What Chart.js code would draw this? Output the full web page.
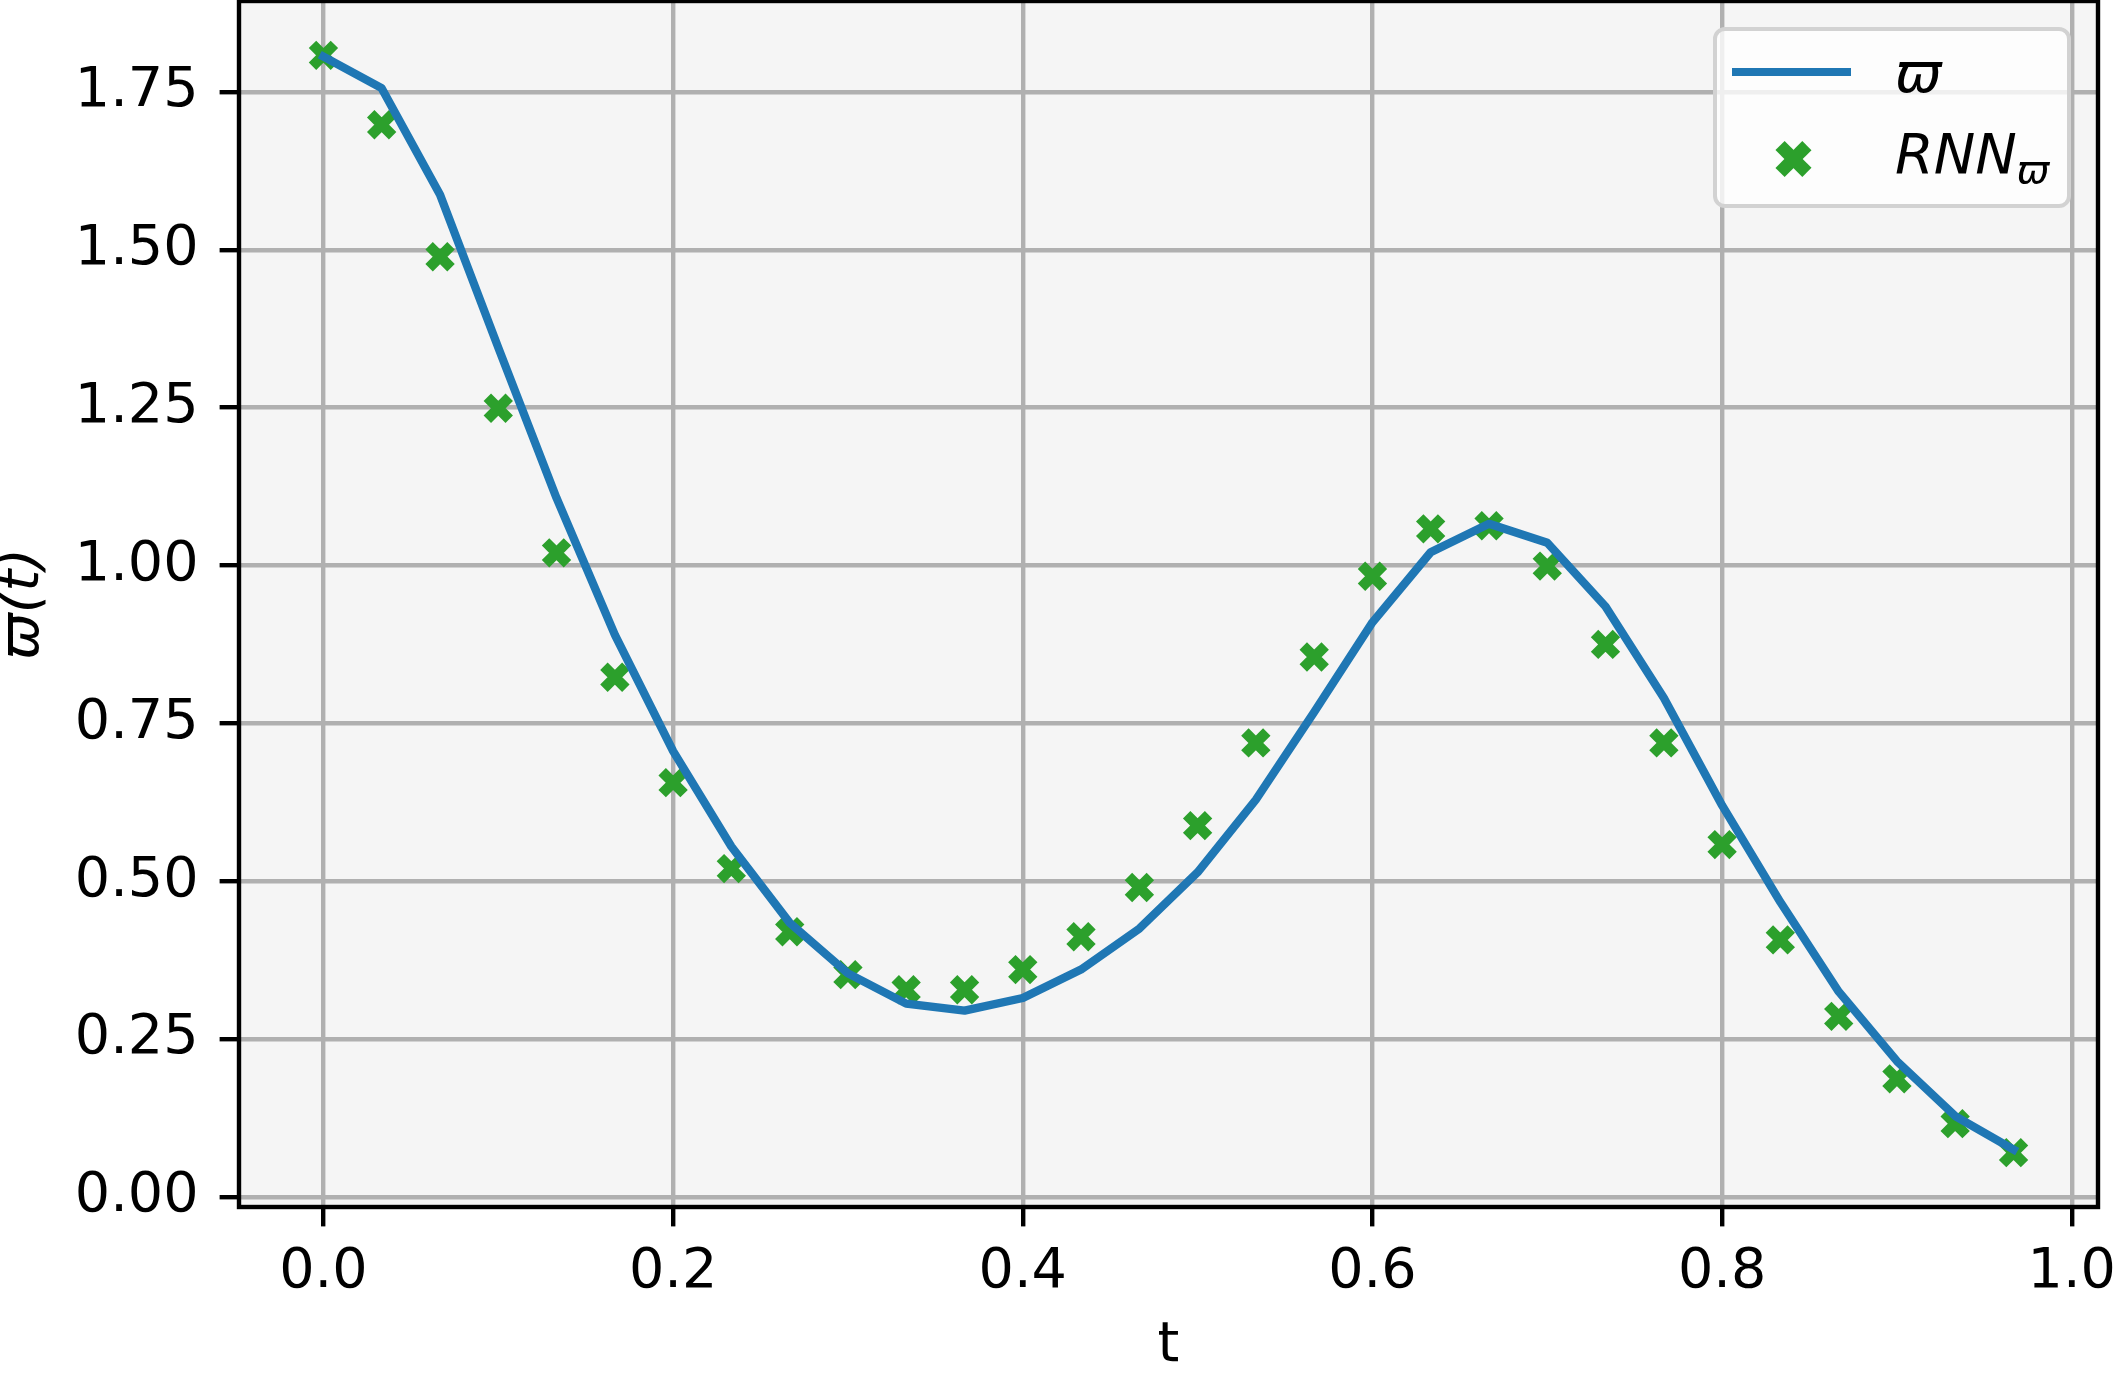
<!DOCTYPE html>
<html>
<head>
<meta charset="utf-8">
<script src="https://cdn.jsdelivr.net/npm/chart.js@4.4.1/dist/chart.umd.min.js"></script>
<style>
  html, body { margin: 0; padding: 0; background: #fff; }
  #wrap { position: relative; width: 2116px; height: 1377px; }
  #legend {
    position: absolute; left: 1713px; top: 27px; width: 358px; height: 181px;
    box-sizing: border-box; border: 4px solid #d2d2d2; border-radius: 12px;
    background: rgba(255,255,255,0.8);
  }
  .lg-line { position: absolute; left: 1732px; top: 68px; width: 119px; height: 8px; background: #1f77b4; }
  .lg-mark { position: absolute; left: 1793px; top: 159px; width: 0; height: 0; }
  .lg-mark i { position: absolute; left: -6.4px; top: -19px; width: 12.8px; height: 38px; background: #2ca02c; }
  .lg-mark i:first-child { transform: rotate(45deg); }
  .lg-mark i:last-child { transform: rotate(-45deg); }
  .lg-text {
    position: absolute; left: 1895px; font-family: "DejaVu Sans"; font-style: italic;
    font-size: 55.6px; line-height: 55.6px; color: #000; white-space: nowrap;
  }
  .lg-text .sub { font-size: 0.7em; position: relative; top: 10px; }
</style>
</head>
<body>
<div id="wrap">
  <canvas id="chart" width="2116" height="1377"></canvas>
  <div id="legend"></div>
  <div class="lg-line"></div>
  <div class="lg-mark"><i></i><i></i></div>
  <div class="lg-text" style="top:45px">ϖ</div>
  <div class="lg-text" style="top:126px">RNN<span class="sub">ϖ</span></div>
</div>
<script>
// time grid (t) and the two series
const T = [0.0000, 0.0333, 0.0667, 0.1000, 0.1333, 0.1667, 0.2000, 0.2333, 0.2667, 0.3000,
           0.3333, 0.3667, 0.4000, 0.4333, 0.4667, 0.5000, 0.5333, 0.5667, 0.6000, 0.6333,
           0.6667, 0.7000, 0.7333, 0.7667, 0.8000, 0.8333, 0.8667, 0.9000, 0.9333, 0.9667];

const VARPI = [1.806, 1.756, 1.587, 1.345, 1.107, 0.890, 0.706, 0.555, 0.434, 0.354,
               0.306, 0.295, 0.315, 0.360, 0.425, 0.514, 0.629, 0.768, 0.910, 1.021,
               1.066, 1.036, 0.935, 0.790, 0.620, 0.467, 0.325, 0.215, 0.128, 0.075];

const RNN = [1.808, 1.698, 1.489, 1.249, 1.020, 0.823, 0.656, 0.520, 0.420, 0.352,
             0.328, 0.328, 0.360, 0.412, 0.490, 0.588, 0.719, 0.855, 0.983, 1.058,
             1.063, 0.999, 0.875, 0.719, 0.558, 0.407, 0.286, 0.187, 0.116, 0.070];

const X_TICKS = [0, 0.2, 0.4, 0.6, 0.8, 1.0];
const Y_TICKS = [0, 0.25, 0.5, 0.75, 1.0, 1.25, 1.5, 1.75];

const FONT = 'DejaVu Sans';
const GRID = '#b0b0b0';

const toXY = ys => ys.map((y, i) => ({ x: T[i], y: y }));

// axes face + black frame like matplotlib spines
const framePlugin = {
  id: 'frame',
  beforeDraw(chart) {
    const { ctx, chartArea: a } = chart;
    ctx.save();
    ctx.fillStyle = '#f5f5f5';
    ctx.fillRect(a.left, a.top, a.right - a.left, a.bottom - a.top);
    ctx.restore();
  },
  afterDraw(chart) {
    const { ctx, chartArea: a } = chart;
    ctx.save();
    ctx.strokeStyle = '#000';
    ctx.lineWidth = 4.4;
    ctx.strokeRect(a.left, a.top, a.right - a.left, a.bottom - a.top);
    ctx.restore();
  }
};

// pin the plot box: no extra room for overhanging tick labels
function fixX(s) {
  s.height = 170;
  s.paddingLeft = 0; s.paddingRight = 0; s.paddingTop = 0; s.paddingBottom = 0;
}
function fixY(s) {
  s.width = 239;
  s.paddingLeft = 0; s.paddingRight = 0; s.paddingTop = 0; s.paddingBottom = 0;
}

new Chart(document.getElementById('chart'), {
  type: 'scatter',
  data: {
    datasets: [
      {
        label: 'ϖ',
        data: toXY(VARPI),
        showLine: true,
        borderColor: '#1f77b4',
        borderWidth: 8.3,
        borderJoinStyle: 'round',
        borderCapStyle: 'square',
        pointRadius: 0,
        tension: 0,
        fill: false
      },
      {
        label: 'RNN',
        data: toXY(RNN),
        showLine: false,
        pointStyle: 'crossRot',
        pointRadius: 15.5,
        pointBorderWidth: 10.5,
        borderColor: '#2ca02c',
        backgroundColor: '#2ca02c'
      }
    ]
  },
  options: {
    responsive: false,
    devicePixelRatio: 1,
    animation: false,
    events: [],
    layout: { autoPadding: false, padding: { left: 0, right: 18, top: 1, bottom: 0 } },
    plugins: { legend: { display: false }, tooltip: { enabled: false } },
    scales: {
      x: {
        type: 'linear',
        min: -0.0483,
        max: 1.015,
        afterBuildTicks: s => { s.ticks = X_TICKS.map(v => ({ value: v })); },
        afterFit: fixX,
        border: { display: false },
        grid: { color: GRID, lineWidth: 4.4, tickColor: '#000', tickWidth: 4.4, tickLength: 19.4 },
        ticks: {
          color: '#000', padding: 13, maxRotation: 0, autoSkip: false,
          font: { family: FONT, size: 55.6 },
          callback: v => v.toFixed(1)
        },
        title: {
          display: true, text: 't', color: '#000',
          font: { family: FONT, size: 55.6, lineHeight: 1 },
          padding: { top: 0, bottom: 3 }
        }
      },
      y: {
        type: 'linear',
        min: -0.016,
        max: 1.894,
        afterBuildTicks: s => { s.ticks = Y_TICKS.map(v => ({ value: v })); },
        afterFit: fixY,
        border: { display: false },
        grid: { color: GRID, lineWidth: 4.4, tickColor: '#000', tickWidth: 4.4, tickLength: 19.4 },
        ticks: {
          color: '#000', padding: 21, autoSkip: false,
          font: { family: FONT, size: 55.6 },
          callback: v => v.toFixed(2)
        },
        title: {
          display: true, text: 'ϖ(t)', color: '#000',
          font: { family: FONT, size: 55.6, style: 'italic', lineHeight: 1 },
          padding: { top: -4, bottom: 0 }
        }
      }
    }
  },
  plugins: [framePlugin]
});
</script>
</body>
</html>
